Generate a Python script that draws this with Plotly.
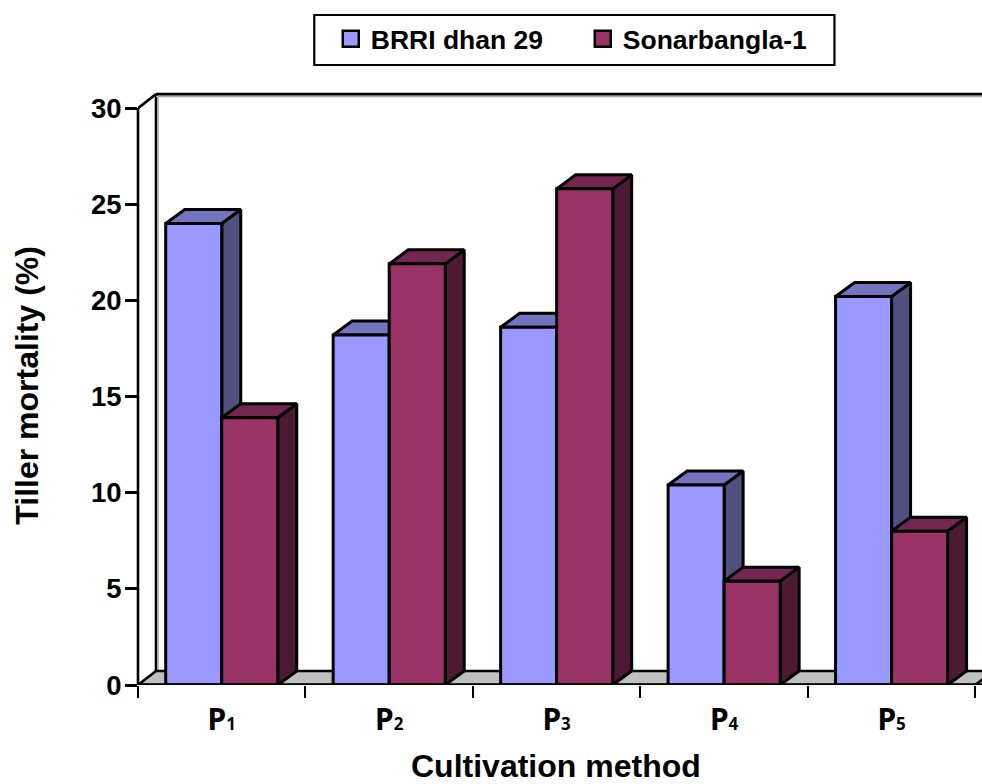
import plotly.graph_objects as go

categories = ["P1", "P2", "P3", "P4", "P5"]
tick_digits = ["1", "2", "3", "4", "5"]
series_a_name = "BRRI dhan 29"
series_b_name = "Sonarbangla-1"
x_title = "Cultivation method"
y_title = "Tiller mortality (%)"
series_a = [24.0, 18.2, 18.6, 10.4, 20.2]
series_b = [13.9, 21.9, 25.8, 5.4, 8.0]
y_ticks = [0, 5, 10, 15, 20, 25, 30]

W, H = 982, 784
ML, MB, MT = 138.3, 99, 70
CAT_PX = 167.4
VAL_PX = 19.23
DX = 19 / CAT_PX
WALL_DX = 18 / CAT_PX
DY = 14 / VAL_PX
BAR_W = 56 / CAT_PX
LW = 3
PW, PH = W - ML, H - MT - MB
xmin = -0.5
xmax = xmin + PW / CAT_PX
ymax = PH / VAL_PX
n = len(categories)
xend = n - 0.5
FONT = "Liberation Sans"

fig = go.Figure()


def poly(xs, ys, fill, lw=LW, color="black"):
    fig.add_trace(go.Scatter(x=xs, y=ys, mode="lines", fill="toself" if fill else None,
                             fillcolor=fill, line=dict(color=color, width=lw),
                             hoverinfo="skip", showlegend=False, xaxis="x", yaxis="y"))


# back wall, left wall, floor
poly([xmin + WALL_DX, xmin + WALL_DX], [DY, 30 + DY], None, 2.6)
poly([xmin + WALL_DX + 0.012, xmin + WALL_DX + 0.012], [DY, 30 + DY - 0.1], None, 1.5, "#a8a8a8")
poly([xmin + WALL_DX, xmax + 1], [30 + DY - 0.13, 30 + DY - 0.13], None, 1.5, "#a8a8a8")
poly([xmin + WALL_DX, xmax + 1], [30 + DY, 30 + DY], None, 2.6)
poly([xmin, xmin + WALL_DX], [30, 30 + DY], None, 2.6)
poly([xmin, xmin + WALL_DX, xmax + 1, xend, xmin], [0, DY, DY, 0, 0], "#C0C0C0", 2.6)
poly([xend, xend + WALL_DX], [0, DY], None, 2.6)

# depth faces of the bars
for i in range(n):
    for v, left, top, side in (
        (series_a[i], i - BAR_W, "#7373BF", "#50507F"),
        (series_b[i], i, "#732650", "#4D1A33"),
    ):
        r = left + BAR_W
        poly([r, r + DX, r + DX, r, r], [0, DY, v + DY, v, 0], side)
        poly([left, left + DX, r + DX, r, left], [v, v + DY, v + DY, v, v], top)

# front faces
for name, vals, col in ((series_a_name, series_a, "#9999FF"), (series_b_name, series_b, "#993366")):
    fig.add_trace(go.Bar(x=list(range(n)), y=vals, name=name, marker=dict(color=col, line=dict(color="black", width=LW)),
                         showlegend=False, xaxis="x2", yaxis="y2", hoverinfo="skip"))
    fig.add_trace(go.Scatter(x=[None], y=[None], mode="markers", name=name, xaxis="x2", yaxis="y2",
                             marker=dict(symbol="square", size=16, color=col, line=dict(color="black", width=2.5))))

# baseline
fig.add_trace(go.Scatter(x=[xmin, xend], y=[0, 0], mode="lines", line=dict(color="black", width=3.5),
                         showlegend=False, hoverinfo="skip", xaxis="x2", yaxis="y2"))

title_font = dict(family=FONT, size=32, color="black", weight="bold")
fig.update_layout(
    width=W, height=H, margin=dict(l=ML, r=0, t=MT, b=MB, autoexpand=False),
    paper_bgcolor="white", plot_bgcolor="white",
    barmode="group", bargap=1 - 2 * BAR_W, bargroupgap=0,
    font=dict(family=FONT, color="black"),
    xaxis=dict(range=[xmin, xmax], tickvals=[i - 0.5 for i in range(n + 1)], ticktext=[""] * (n + 1),
               ticks="outside", ticklen=12, tickwidth=2, tickcolor="black", showgrid=False, zeroline=False,
               showline=False, automargin=False),
    yaxis=dict(range=[0, ymax], tickvals=y_ticks, ticks="outside", ticklen=12, tickwidth=2.5, tickcolor="black",
               tickfont=dict(family=FONT, size=27.5, color="black", weight="bold"), ticklabelstandoff=-2,
               showgrid=False, zeroline=False, showline=False, automargin=False),
    xaxis2=dict(range=[xmin, xmax], overlaying="x", side="bottom", anchor="y2", tickvals=list(range(n)),
                ticktext=[f"P<span style='font-size:17px'>{d}</span>" for d in tick_digits],
                tickfont=dict(family="Noto Sans", size=30, color="black", weight="bold"),
                ticks="outside", ticklen=8, tickcolor="rgba(0,0,0,0)", showgrid=False, zeroline=False),
    yaxis2=dict(range=[0, ymax], overlaying="y", anchor="x2", showticklabels=False, ticks="", showgrid=False, zeroline=False),
    legend=dict(orientation="h", x=(331 - ML) / PW, xanchor="left",
                y=1 + (MT - 15) / PH, yanchor="top",
                bgcolor="rgba(0,0,0,0)", font=dict(family=FONT, size=26.5, color="black", weight="bold"),
                itemwidth=30, entrywidth=207, entrywidthmode="pixels"),
    annotations=[
        dict(text=x_title, xref="paper", yref="paper", x=(556 - ML) / PW, y=-(765.5 - (H - MB)) / PH,
             xanchor="center", yanchor="middle", showarrow=False, font=title_font),
        dict(text=y_title, xref="paper", yref="paper", x=(27 - ML) / PW, y=(H - MB - 385) / PH,
             xanchor="center", yanchor="middle", showarrow=False, textangle=-90, font=title_font),
    ],
    shapes=[
        dict(type="rect", xref="paper", yref="paper",
             x0=(314.5 - ML) / PW, x1=(834.5 - ML) / PW,
             y0=1 + (MT - 65) / PH, y1=1 + (MT - 15) / PH,
             line=dict(color="black", width=2.2)),
        dict(type="line", xref="paper", yref="paper", x0=0, x1=0,
             y0=0, y1=30 / ymax, line=dict(color="black", width=2.6), layer="above"),
    ],
)
fig.write_html("out.html", config=dict(displayModeBar=False),
               post_script="document.body.style.margin='0';document.body.style.overflow='hidden';")
